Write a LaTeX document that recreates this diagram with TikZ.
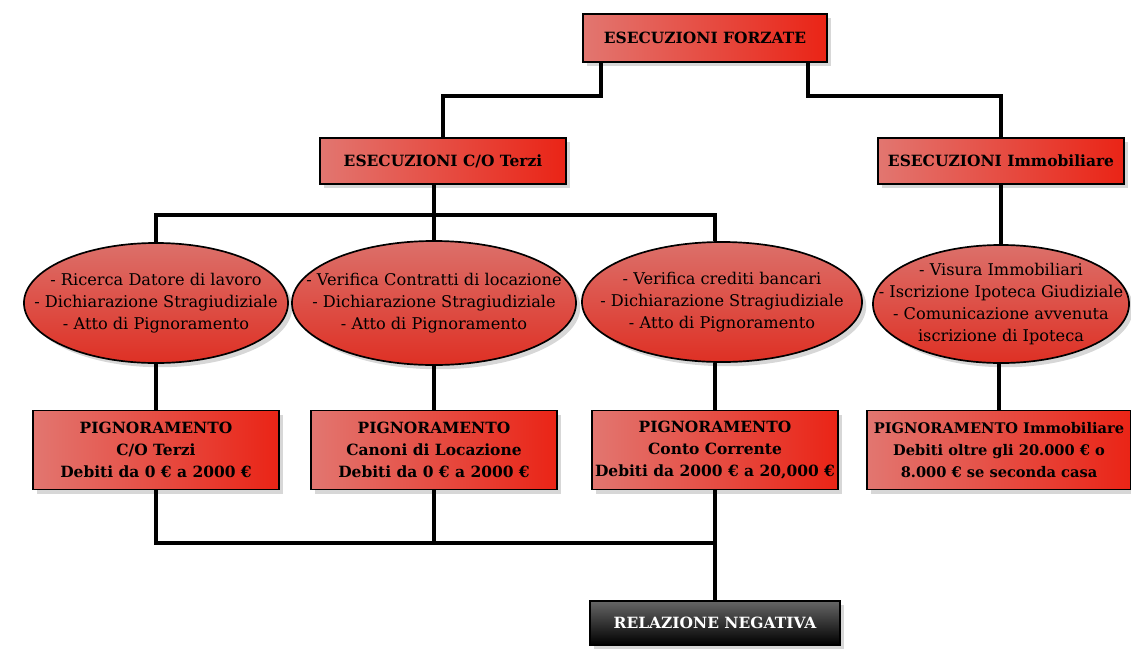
\documentclass[tikz,border=0pt]{standalone}
\usepackage{fontspec}
\setmainfont{DejaVu Serif}
\usetikzlibrary{shapes.geometric,shadows,calc}
\definecolor{boxlight}{RGB}{226,118,112}
\definecolor{boxred}{RGB}{234,36,22}
\definecolor{ovallight}{RGB}{220,112,106}
\definecolor{ovalred}{RGB}{222,48,36}
\tikzset{
  shade/.style={drop shadow={shadow xshift=3pt, shadow yshift=-3pt, fill=black!45, opacity=.35}},
  box/.style={rectangle, draw=black, line width=1.2pt, left color=boxlight, right color=boxred,
    shade, align=center, inner sep=1pt, font=\fontsize{11}{15.5}\selectfont\bfseries},
  oval/.style={ellipse, draw=black, line width=1.2pt, top color=ovallight, bottom color=ovalred,
    shade, inner sep=0pt},
  ovaltext/.style={align=center, inner sep=0pt, font=\fontsize{11.5}{15.5}\selectfont},
  darkbox/.style={rectangle, draw=black, line width=1.2pt, top color=black!60, bottom color=black,
    text=white, shade, inner sep=2pt, font=\fontsize{11}{12}\selectfont\bfseries},
  wire/.style={line width=2.4pt},
}

\begin{document}
\begin{tikzpicture}[x=0.025cm, y=-0.025cm]
\useasboundingbox (0,0) rectangle (1131,653);

% Top level
\node[box, minimum width=6.1cm, minimum height=1.2cm] (forzate) at (705,38) {ESECUZIONI FORZATE};

% Second level
\node[box, minimum width=6.15cm, minimum height=1.15cm] (terzi) at (443,161) {ESECUZIONI C/O Terzi};
\node[box, minimum width=6.15cm, minimum height=1.15cm] (immob) at (1001,161) {ESECUZIONI Immobiliare};

% Activities (ellipses)
\node[oval, minimum width=6.6cm, minimum height=3.0cm] (e1) at (156,303) {};
\node[oval, minimum width=7.1cm, minimum height=3.1cm] (e2) at (434,303) {};
\node[oval, minimum width=7.0cm, minimum height=3.0cm] (e3) at (722,302) {};
\node[oval, minimum width=6.4cm, minimum height=2.95cm] (e4) at (1001,304) {};

\node[ovaltext] (t1) at (e1) {- Ricerca Datore di lavoro\\- Dichiarazione Stragiudiziale\\- Atto di Pignoramento};
\node[ovaltext] (t2) at (e2) {- Verifica Contratti di locazione\\- Dichiarazione Stragiudiziale\\- Atto di Pignoramento};
\node[ovaltext] (t3) at (e3) {- Verifica crediti bancari\\- Dichiarazione Stragiudiziale\\- Atto di Pignoramento};
\node[ovaltext] (t4) at (e4) {- Visura Immobiliari\\- Iscrizione Ipoteca Giudiziale\\- Comunicazione avvenuta\\iscrizione di Ipoteca};

% Pignoramenti
\node[box, minimum width=6.15cm, minimum height=1.975cm] (b1) at (156,450) {PIGNORAMENTO\\C/O Terzi\\Debiti da 0 € a 2000 €};
\node[box, minimum width=6.15cm, minimum height=1.975cm] (b2) at (434,450) {PIGNORAMENTO\\Canoni di Locazione\\Debiti da 0 € a 2000 €};
\node[box, minimum width=6.15cm, minimum height=1.975cm] (b3) at (715,450) {PIGNORAMENTO\\Conto Corrente\\Debiti da 2000 € a 20,000 €};
\node[box, minimum width=6.6cm, minimum height=1.975cm, font=\fontsize{10.4}{15.5}\selectfont\bfseries] (b4) at (999,450) {PIGNORAMENTO Immobiliare\\Debiti oltre gli 20.000 € o\\8.000 € se seconda casa};

% Result
\node[darkbox, minimum width=6.25cm, minimum height=1.1cm] (neg) at (715,623) {RELAZIONE NEGATIVA};

% Junctions
\coordinate (split) at (715,215);
\coordinate (merge) at (715,543);

% Connectors
\draw[wire] (forzate.south -| 601,0) -- ++(0,33) -| (terzi.north);
\draw[wire] (forzate.south -| 808,0) -- ++(0,33) -| (immob.north);
\draw[wire] (e1.north) |- (split) -- (split |- e3.north);
\draw[wire] (terzi.south -| e2.north) -- (e2.north);
\draw[wire] (immob.south -| e4.north) -- (e4.north);
\draw[wire] (e1.south) -- (b1.north);
\draw[wire] (e2.south) -- (b2.north);
\draw[wire] (e3.south -| b3.north) -- (b3.north);
\draw[wire] (e4.south -| b4.north) -- (b4.north);
\draw[wire] (b1.south) |- (merge);
\draw[wire] (b2.south) -- (b2.south |- merge);
\draw[wire] (b3.south) -- (neg.north);
\end{tikzpicture}
\end{document}
